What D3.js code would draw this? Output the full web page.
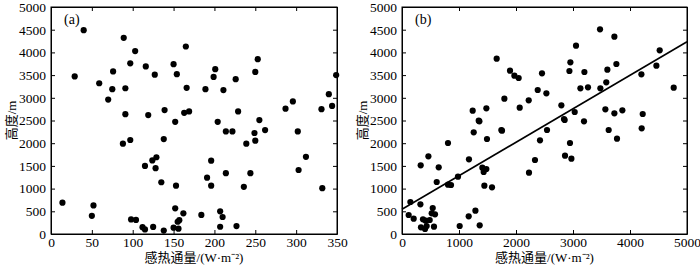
<!DOCTYPE html>
<html><head><meta charset="utf-8">
<script src="https://cdn.jsdelivr.net/npm/d3@7/dist/d3.min.js"></script>
<style>
body{margin:0;background:#fff;}
svg text{font-family:"Liberation Serif","Times New Roman","Noto Sans CJK SC",serif;fill:#000;}
</style></head>
<body><svg id="c" width="700" height="266"></svg>
<script>
// Panel (a): sensible heat flux (W·m-2) vs height (m)
const aX = [40,29,59,76,75,70,89,103,97,91,91,116,127,119,139,150,154,152,165,166,163,169,189,201,199,211,226,204,229,253,250,255,287,296,331,340,344,349,88,97,138,124,129,115,128,135,153,14,52,50,98,104,112,115,125,138,152,155,157,150,156,162,184,207,210,207,227,191,196,196,214,244,236,239,250,214,222,249,262,302,312,303,332];
const aY = [4490,3470,3320,3580,3190,2960,4320,4030,3760,3210,2640,3690,3510,2620,2730,3740,3520,2470,4130,3220,2670,2700,3190,3630,3460,3170,3410,2470,2700,3850,3570,2510,2760,2920,2750,3080,2820,3500,1990,2070,2090,1620,1690,1500,1450,1140,1065,690,630,400,320,310,150,100,155,75,565,270,305,140,117,456,420,500,375,160,175,1240,1615,1065,1340,1340,1040,1990,2055,2260,2260,2225,2290,2260,1700,1410,1010];
// Panel (b)
const bX = [1661,1895,1972,2047,1796,2223,2065,1480,1240,1346,1743,3474,3726,3053,4521,2954,2937,2456,3200,3761,3603,4463,4200,3584,3480,3263,3130,2381,2533,4767,2796,2842,3030,3193,3568,3726,3866,4223,4205,3626,2544,2854,3772,2421,2947,2860,2972,2333,2228,1358,1258,1754,1491,807,463,328,644,1175,1410,1480,1433,609,982,807,860,1445,1579,147,323,117,205,539,521,579,368,486,333,404,433,561,416,1170,1288,1012,1363];
const bY = [3861,3597,3487,3436,2980,2945,2782,2768,2716,2496,2291,4509,4346,4148,4046,3782,3590,3539,3568,3744,3619,3707,3517,3341,3209,3231,3209,3172,3099,3223,2835,2533,2687,2482,2746,2658,2725,2643,2328,2291,2291,2511,2100,2064,2004,1725,1659,1630,1350,2482,2240,2276,2093,2004,1711,1513,1469,1645,1460,1432,1366,1145,1262,1086,1079,1064,1029,705,654,419,337,573,456,434,324,308,148,110,176,161,293,390,513,176,191];
// Fitted line for (b)
const fitX = [0,5000];
const fitY = [544,4236];
const aTicksX = [0,50,100,150,200,250,300,350];
const bTicksX = [0,1000,2000,3000,4000,5000];
const ticksY = [0,500,1000,1500,2000,2500,3000,3500,4000,4500,5000];
const xTitle = "感热通量/(W·m⁻²)";
const yTitle = "高度/m";
const panelLabels = ["(a)","(b)"];

const svg = d3.select("#c");
const yTop = 7, yBot = 234;
const y = d3.scaleLinear().domain([0,5000]).range([yBot, yTop]);

function panel(x0, x1, domainMax, ticksX, xs, ys, label, fit){
  const x = d3.scaleLinear().domain([0, domainMax]).range([x0, x1]);
  const g = svg.append("g");
  const fs = "13.5px";
  const axB = g.append("g").attr("transform",`translate(0,${yBot})`)
    .call(d3.axisBottom(x).tickValues(ticksX).tickSizeInner(-4).tickSizeOuter(0).tickPadding(3).tickFormat(d3.format("d")));
  const axT = g.append("g").attr("transform",`translate(0,${yTop})`)
    .call(d3.axisTop(x).tickValues(ticksX).tickSizeInner(-4).tickSizeOuter(0).tickFormat(""));
  const axL = g.append("g").attr("transform",`translate(${x0},0)`)
    .call(d3.axisLeft(y).tickValues(ticksY).tickSizeInner(-4).tickSizeOuter(0).tickPadding(5).tickFormat(d3.format("d")));
  const axR = g.append("g").attr("transform",`translate(${x1},0)`)
    .call(d3.axisRight(y).tickValues(ticksY).tickSizeInner(-4).tickSizeOuter(0).tickFormat(""));
  [axB,axT,axL,axR].forEach(a=>{
    a.select(".domain").attr("stroke","#000").attr("stroke-width",1);
    a.selectAll("line").attr("stroke","#000");
    a.selectAll("text").attr("font-size",fs).attr("font-family",null);
  });
  axB.selectAll("text").attr("dy","0.71em");
  g.append("rect").attr("x",x0).attr("y",yTop).attr("width",x1-x0).attr("height",yBot-yTop)
    .attr("fill","none").attr("stroke","#000");
  g.append("g").selectAll("circle").data(xs.map((v,i)=>[v,ys[i]])).join("circle")
    .attr("cx",d=>x(d[0])).attr("cy",d=>y(d[1])).attr("r",3.1).attr("fill","#000");
  if(fit){
    g.append("line").attr("x1",x(fit[0][0])).attr("y1",y(fit[1][0]))
      .attr("x2",x(fit[0][1])).attr("y2",y(fit[1][1])).attr("stroke","#000").attr("stroke-width",1.6);
  }
  g.append("text").attr("x",x0+13).attr("y",yTop+17).attr("font-size","14px").text(label);
  g.append("text").attr("x",(x0+x1)/2).attr("y",262).attr("text-anchor","middle").attr("font-size","13px").text(xTitle);
  g.append("text").attr("transform",`translate(${x0-35},${(yTop+yBot)/2}) rotate(-90)`)
    .attr("text-anchor","middle").attr("font-size","13px").text(yTitle);
}
panel(51, 337, 350, aTicksX, aX, aY, panelLabels[0], null);
panel(402, 687, 5000, bTicksX, bX, bY, panelLabels[1], [fitX, fitY]);
</script></body></html>
